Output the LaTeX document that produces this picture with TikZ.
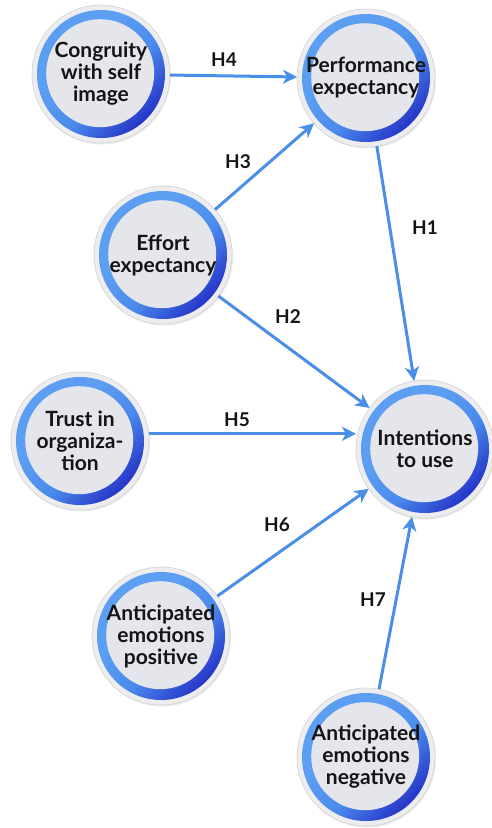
\documentclass[tikz,border=0pt]{standalone}
\usepackage{fontspec}
\setmainfont{Lato}
\usetikzlibrary{arrows.meta,shadows}

\definecolor{rimfill}{HTML}{EDEDF0}
\definecolor{rimline}{HTML}{D2D3D8}
\definecolor{innerfill}{HTML}{E4E6EC}
\definecolor{ringlight}{HTML}{5C9EF2}
\definecolor{ringmid}{HTML}{4A8AEC}
\definecolor{ringdark}{HTML}{2636C8}
\definecolor{arrowblue}{HTML}{4A8EE8}
\definecolor{txt}{HTML}{141414}

% blue ring: light over most of the ring, deepening towards one side
\pgfdeclareverticalshading{ringshade}{100bp}{
  color(0bp)=(ringdark); color(27bp)=(ringdark); color(44bp)=(ringmid);
  color(60bp)=(ringlight); color(100bp)=(ringlight)}

\begin{document}
\begin{tikzpicture}[x=1pt,y=-1pt,
  construct/.style={circle, minimum size=138pt, inner sep=0pt, outer sep=0pt,
    fill=rimfill, draw=rimline, line width=0.6pt, align=center, text=txt,
    font=\fontsize{21}{22}\selectfont\bfseries,
    drop shadow={opacity=0.16, shadow xshift=1pt, shadow yshift=-1.5pt},
    path picture={
      \shade[shading=ringshade, shading angle=45]
        (path picture bounding box.center) circle (64pt);
      \fill[innerfill] ([shift={(-0.8pt,0.8pt)}]path picture bounding box.center) circle (54pt);
    }},
  link/.style={draw=arrowblue, line width=3pt, -{Stealth[length=14pt,width=14pt,inset=4pt]}},
  hyp/.style={font=\fontsize{19}{20}\selectfont\bfseries, text=txt}
]
\useasboundingbox (0,0) rectangle (491,828);

% constructs of the model
\node[construct] (C)  at (101,74)  {Congruity\\with self\\image};
\node[construct] (P)  at (366,78)  {Performance\\expectancy};
\node[construct] (E)  at (163,255) {Effort\\expectancy};
\node[construct] (T)  at (80,441)  {Trust in\\organiza-\\tion};
\node[construct] (I)  at (425,449) {Intentions\\to use};
\node[construct] (AP) at (161,636) {Anticipated\\emotions\\positive};
\node[construct] (AN) at (366,757) {Anticipated\\emotions\\negative};

% hypothesised paths
\draw[link] (C) -- (P);
\draw[link] (E) -- (P);
\draw[link] (P) -- (I);
\draw[link] (E) -- (I);
\draw[link] (T.6) -- (T.6 -| I.west);
\draw[link] (AP) -- (I);
\draw[link] (AN) -- (I);

% hypothesis labels
\node[hyp] (h4) at (224,60)  {H4};
\node[hyp] (h3) at (238,162) {H3};
\node[hyp] (h1) at (425,228) {H1};
\node[hyp] (h2) at (288,317) {H2};
\node[hyp] (h5) at (237,420) {H5};
\node[hyp] (h6) at (277,525) {H6};
\node[hyp] (h7) at (373,600) {H7};
\end{tikzpicture}
\end{document}
